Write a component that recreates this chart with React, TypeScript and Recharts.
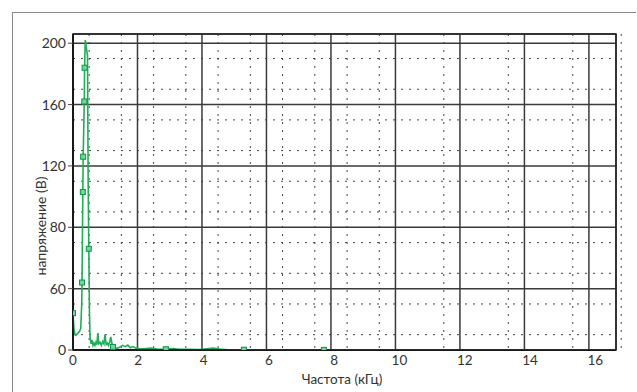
import React from 'react';
import { ComposedChart, Line, Scatter, XAxis, YAxis, CartesianGrid, ReferenceArea, Label } from 'recharts';

// частота, кГц
const freq = [
  0, 0.03, 0.06, 0.09, 0.15, 0.2, 0.24, 0.27, 0.28, 0.305, 0.315, 0.35, 0.36, 0.38,
  0.45, 0.47, 0.49, 0.51, 0.53, 0.56, 0.59, 0.62, 0.65, 0.68, 0.71, 0.74, 0.77, 0.8,
  0.84, 0.88, 0.92, 0.96, 0.99, 1.03, 1.07, 1.1, 1.14, 1.17, 1.21, 1.24, 1.3, 1.38,
  1.46, 1.54, 1.62, 1.7, 1.78, 1.86, 1.95, 2.05, 2.2, 2.4, 2.6, 2.88, 3.1, 3.3, 3.6,
  3.9, 4.15, 4.35, 4.55, 4.8, 5.3, 6, 7, 7.78, 9, 11, 13, 15, 16.84,
];
// напряжение, В
const volt = [
  24, 14, 10, 9.5, 11, 12, 14, 30, 44, 103, 126, 162, 184, 202,
  192, 110, 66, 25, 8, 4, 6.5, 3, 4.5, 3, 5, 3.5, 11, 4,
  5, 3, 5.5, 4, 10, 3.5, 4.5, 3, 5, 8.5, 4, 2, 1.5, 1.2,
  2, 3, 2.2, 3.2, 1.5, 2.2, 1.2, 1, 0.8, 1.2, 0.6, 0.5, 1, 0.5, 0.4,
  0.3, 0.8, 1.2, 0.7, 0.2, 0.2, 0.1, 0.1, 0.1, 0.1, 0.05, 0.05, 0.05, 0.05,
];

// отмеченные точки
const markerFreq = [0, 0.28, 0.305, 0.315, 0.35, 0.36, 0.49, 1.24, 2.88, 5.3, 7.78];
const markerVolt = [24, 44, 103, 126, 162, 184, 66, 2, 0.5, 0.2, 0.1];

const xTicks = [0, 2, 4, 6, 8, 10, 12, 14, 16];
const yTicks = [0, 40, 80, 120, 160, 200];
const yTickLabels = ['0', '60', '80', '120', '160', '200'];

const xMinor = Array.from({ length: 34 }, (_, i) => (i + 1) * 0.5).filter(v => v % 2 !== 0);
const yMinor = Array.from({ length: 20 }, (_, i) => (i + 1) * 10).filter(v => v % 40 !== 0);

const lineRows = freq.map((f, i) => ({ f, v: volt[i] }));
const markerRows = markerFreq.map((f, i) => ({ f, v: markerVolt[i] }));

const FONT = 'Lato, "DejaVu Sans", sans-serif';

const XTick = (props: any) => {
  const { x, y, payload } = props;
  return (
    <text x={x + payload.value * 0.4} y={y - 3} dy="0.71em" textAnchor="middle" fontSize={13.5} fill="#333" fontFamily={FONT}>
      {payload.value}
    </text>
  );
};

const Square = (props: any) => {
  const { cx, cy } = props;
  return <rect x={cx - 2.5} y={cy - 2.5} width={5} height={5} fill="#6fd79a" stroke="#0b9444" strokeWidth={1} />;
};

export default function App() {
  return (
    <div style={{ position: 'fixed', left: 0, top: 0, width: 637, height: 392, background: '#fff', overflow: 'hidden' }}>
      <div style={{ position: 'absolute', left: 12, top: 12, width: 623, height: 400, borderLeft: '1px solid #8a8a8a', borderTop: '1px solid #8a8a8a' }} />
      <ComposedChart width={637} height={392} margin={{ top: 34, right: 21, bottom: 12, left: 0 }} style={{ position: 'absolute', left: 0, top: 0, fontFamily: FONT }}>
        <CartesianGrid horizontalValues={yMinor} verticalValues={xMinor} stroke="#444" strokeDasharray="2 6" strokeWidth={1} />
        <CartesianGrid stroke="#3a3a3a" strokeWidth={1.5} />
        <ReferenceArea x1={0} x2={16.84} y1={0} y2={206} fill="none" stroke="#222" strokeWidth={1.5} />
        <XAxis
          type="number"
          dataKey="f"
          domain={[0, 16.84]}
          ticks={xTicks}
          allowDataOverflow
          height={30}
          tickLine={false}
          tickSize={6}
          tickMargin={2}
          axisLine={{ stroke: '#111', strokeWidth: 1.5 }}
          tick={<XTick />}
        >
          <Label
            content={() => (
              <text x={342} y={384} textAnchor="middle" fontSize={13.5} fill="#333" fontFamily={FONT}>
                Частота (кГц)
              </text>
            )}
          />
        </XAxis>
        <YAxis
          type="number"
          dataKey="v"
          domain={[0, 206]}
          ticks={yTicks}
          allowDataOverflow
          width={73}
          tickSize={5}
          tickLine={{ stroke: '#444' }}
          axisLine={{ stroke: '#111', strokeWidth: 1.5 }}
          tickFormatter={(v: number) => yTickLabels[yTicks.indexOf(v)] ?? String(v)}
          tick={{ fontSize: 14, fill: '#333', fontFamily: FONT }}
        >
          <Label
            content={() => (
              <text x={40} y={226} transform="rotate(-90 40 226)" textAnchor="middle" dominantBaseline="central" fontSize={14} fill="#333" fontFamily={FONT}>
                напряжение (В)
              </text>
            )}
          />
        </YAxis>
        <Line data={lineRows} dataKey="v" type="linear" stroke="#1fae58" strokeWidth={1.6} dot={false} activeDot={false} isAnimationActive={false} />
        <Scatter data={markerRows} dataKey="v" shape={<Square />} isAnimationActive={false} />
      </ComposedChart>
    </div>
  );
}
